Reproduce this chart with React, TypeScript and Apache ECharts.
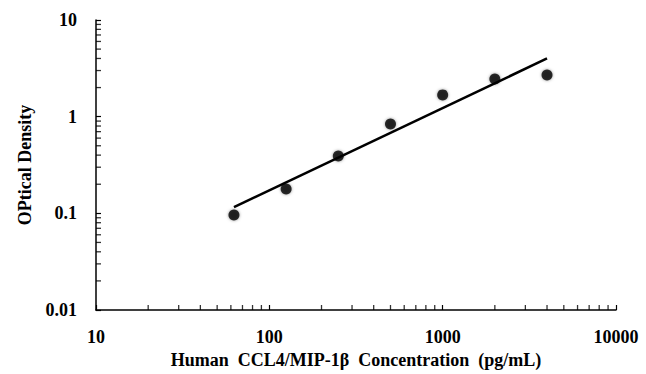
import React, { useEffect, useRef } from "react";
import * as echarts from "echarts";

const concentrations = [62.5, 125, 250, 500, 1000, 2000, 4000];
const odValues = [0.096, 0.179, 0.392, 0.84, 1.68, 2.45, 2.7];
const fitLine = [
  [62.5, 0.116],
  [4000, 4.0],
];
const xMinorTicks = [
  20, 30, 40, 50, 60, 70, 80, 90,
  200, 300, 400, 500, 600, 700, 800, 900,
  2000, 3000, 4000, 5000, 6000, 7000, 8000, 9000,
];
const yMinorTicks = [
  0.02, 0.03, 0.04, 0.05, 0.06, 0.07, 0.08, 0.09,
  0.2, 0.3, 0.4, 0.5, 0.6, 0.7, 0.8, 0.9,
  2, 3, 4, 5, 6, 7, 8, 9,
];
const xMin = 10;
const xMax = 10000;
const yMin = 0.01;
const yMax = 10;
const xTitle = "Human  CCL4/MIP-1β  Concentration  (pg/mL)";
const yTitle = "OPtical Density";

const FONT = "'Liberation Serif', 'Times New Roman', serif";
const TICK_LEN = 5;

export default function App() {
  const ref = useRef<HTMLDivElement>(null);
  useEffect(() => {
    if (!ref.current) return;
    const chart = echarts.init(ref.current, null, { renderer: "svg" });
    const fmt = (v: number) => String(Number(v.toPrecision(6)));
    const labelStyle = {
      fontFamily: FONT,
      fontWeight: "bold" as const,
      fontSize: 18,
      color: "#000",
    };
    chart.setOption({
      animation: false,
      backgroundColor: "#fff",
      grid: { left: 96, right: 30, top: 20, bottom: 64, containLabel: false },
      xAxis: {
        type: "log",
        min: xMin,
        max: xMax,
        logBase: 10,
        name: xTitle,
        nameLocation: "middle",
        nameGap: 36,
        nameTextStyle: { ...labelStyle, fontSize: 18 },
        axisLine: { lineStyle: { color: "#000", width: 1.5 } },
        axisTick: { inside: true, length: TICK_LEN, lineStyle: { color: "#000", width: 1.2 } },
        axisLabel: { ...labelStyle, margin: 18, formatter: fmt },
        splitLine: { show: false },
      },
      yAxis: {
        type: "log",
        min: yMin,
        max: yMax,
        logBase: 10,
        name: yTitle,
        nameLocation: "middle",
        nameGap: 62,
        nameTextStyle: { ...labelStyle, fontSize: 18 },
        axisLine: { lineStyle: { color: "#000", width: 1.5 } },
        axisTick: { inside: true, length: TICK_LEN, lineStyle: { color: "#000", width: 1.2 } },
        axisLabel: { ...labelStyle, margin: 19, formatter: fmt },
        splitLine: { show: false },
      },
      series: [
        {
          type: "scatter",
          silent: true,
          clip: false,
          data: xMinorTicks.map((v) => [v, yMin]),
          symbol: "rect",
          symbolSize: [1.3, TICK_LEN],
          symbolOffset: [0, -TICK_LEN / 2],
          itemStyle: { color: "#000" },
          z: 1,
        },
        {
          type: "scatter",
          silent: true,
          clip: false,
          data: yMinorTicks.map((v) => [xMin, v]),
          symbol: "rect",
          symbolSize: [TICK_LEN, 1.3],
          symbolOffset: [TICK_LEN / 2, 0],
          itemStyle: { color: "#000" },
          z: 1,
        },
        {
          type: "line",
          data: fitLine,
          showSymbol: false,
          symbol: "none",
          lineStyle: { color: "#000", width: 2.5 },
          z: 2,
        },
        {
          type: "scatter",
          data: concentrations.map((c, i) => [c, odValues[i]]),
          symbol: "circle",
          symbolSize: 11,
          itemStyle: {
            color: "#000",
            shadowBlur: 3,
            shadowColor: "rgba(0,0,0,0.5)",
          },
          z: 3,
        },
      ],
    });
    return () => chart.dispose();
  }, []);
  return <div ref={ref} style={{ width: 646, height: 374, position: "absolute", left: 0, top: 0 }} />;
}
